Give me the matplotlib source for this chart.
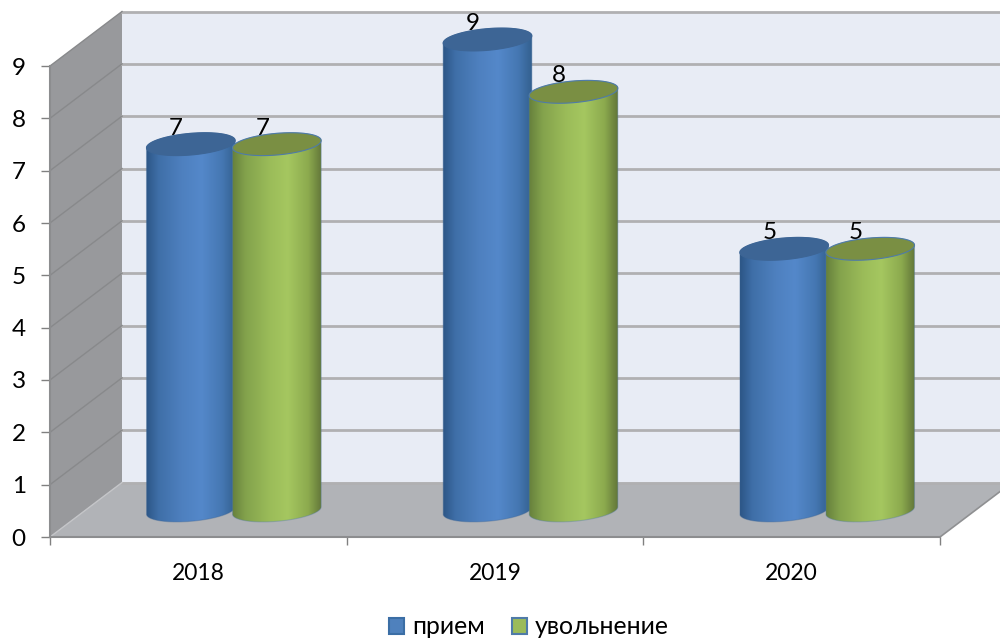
import numpy as np
import matplotlib
matplotlib.use("Agg")
import matplotlib.pyplot as plt
from matplotlib.patches import Polygon, PathPatch, Patch
from matplotlib.path import Path
from matplotlib.colors import to_rgb

years = ["2018", "2019", "2020"]
hired = [7, 9, 5]
fired = [7, 8, 5]
series_names = ["прием", "увольнение"]
y_ticks = list(range(10))

plt.rcParams["font.family"] = ["Lato", "Open Sans", "DejaVu Sans"]

W, H = 1000, 642
fig = plt.figure(figsize=(W / 100, H / 100), dpi=100, facecolor="white")
L, R, B, T = 50, 940, 537, 66
ax = fig.add_axes([L / W, 1 - B / H, (R - L) / W, (B - T) / H])
ax.patch.set_visible(False)
XLIM = (-0.5, 2.5)
YLIM = (0, 9)
PX = (R - L) / 3          # pixels per category
PY = (B - T) / 9          # pixels per unit
DX, DV = 72 / PX, 54.5 / PY  # 3D depth in data units


def poly(pts, color, z):
    ax.add_patch(Polygon(pts, closed=True, fc=color, ec="none", zorder=z, clip_on=False))


# walls and floor
x0, x1 = XLIM
top = YLIM[1]
poly([(x0, 0), (x0, top), (x0 + DX, top + DV), (x0 + DX, DV)], "#98999c", 1)
poly([(x0 + DX, DV), (x0 + DX, top + DV), (x1 + DX, top + DV), (x1 + DX, DV)], "#e8ecf5", 1)
poly([(x0, 0), (x1, 0), (x1 + DX, DV), (x0 + DX, DV)], "#b1b3b7", 1)

# gridlines on the back and side walls
for v in y_ticks:
    ax.plot([x0 + DX, x1 + DX], [v + DV, v + DV], color="#b0b0b2", lw=2.0, zorder=2, clip_on=False)
    if v > 0:
        ax.plot([x0, x0 + DX], [v, v + DV], color="#88898b", lw=1.0, zorder=2, clip_on=False)
ax.plot([x0, x0 + DX], [0, DV], color="#c4c5c8", lw=1.0, zorder=2, clip_on=False)
ax.plot([x1, x1 + DX], [0, DV], color="#8f9092", lw=1.2, zorder=2, clip_on=False)


def stops(cols, pos):
    rgb = np.array([to_rgb(c) for c in cols])
    t = np.linspace(0, 1, 256)
    return np.stack([np.interp(t, pos, rgb[:, i]) for i in range(3)], axis=1)[None, :, :]


BLUE = stops(["#2c5686", "#3f6fa8", "#4e80bf", "#5488ca", "#4577b2", "#33608f"], [0, .14, .4, .62, .85, 1])
GREEN = stops(["#66803c", "#83a24c", "#9bbc59", "#a5c760", "#8caa4e", "#627639"], [0, .15, .42, .62, .85, 1])
A, BB, TILT = 44.5, 10.8, np.deg2rad(5)
BASE = 26.5 / PY


def ellipse_xy(cx, cv, t):
    px = A * np.cos(t) * np.cos(TILT) - BB * np.sin(t) * np.sin(TILT)
    py = A * np.cos(t) * np.sin(TILT) + BB * np.sin(t) * np.cos(TILT)
    return cx + px / PX, cv + py / PY


def cylinder(cx, value, grad, cap, edge, z):
    tt = np.linspace(0, np.pi, 80)
    xt, yt = ellipse_xy(cx, BASE + value, tt)          # upper half of the top rim
    xb, yb = ellipse_xy(cx, BASE, tt + np.pi)          # lower half of the base rim
    verts = np.r_[np.c_[xt, yt], np.c_[xb, yb], [[xt[0], yt[0]]]]
    body = PathPatch(Path(verts), fc="none", ec=edge, lw=0.8, zorder=z + 0.2, clip_on=False, alpha=.35)
    ax.add_patch(body)
    half = A / PX
    im = ax.imshow(grad, extent=(cx - half, cx + half, BASE - .3, BASE + value + .3),
                   aspect="auto", zorder=z, interpolation="bilinear")
    im.set_clip_on(True)
    im.set_clip_box(fig.bbox)
    im.set_clip_path(body)
    tf = np.linspace(0, 2 * np.pi, 120)
    xc, yc = ellipse_xy(cx, BASE + value, tf)
    ax.add_patch(Polygon(np.c_[xc, yc], closed=True, fc=cap, ec=edge, lw=0.8, zorder=z + 0.3, clip_on=False))


BAR = 86 / PX
for i, (h, f) in enumerate(zip(hired, fired)):
    cx = i + (DX - 1 / PX) / 2
    zb = 5 + i
    cylinder(cx - BAR / 2, h, BLUE, "#3d6595", "#3d6595", zb)
    cylinder(cx + BAR / 2, f, GREEN, "#7a8f43", "#4f7ba8", zb + 0.5)
    for xc, v in ((cx - BAR / 2, h), (cx + BAR / 2, f)):
        ax.annotate(str(v), xy=(xc, v + BASE), xytext=(-10.5, 11.5), textcoords="offset points",
                    ha="center", va="center", fontsize=17.5, color="black", zorder=4,
                    annotation_clip=False)

ax.set_xlim(*XLIM)
ax.set_ylim(*YLIM)

# axes
for s in ("top", "right"):
    ax.spines[s].set_visible(False)
for s in ("left", "bottom"):
    ax.spines[s].set_color("#8c8d8f")
    ax.spines[s].set_linewidth(1.5)
    ax.spines[s].set_zorder(3)
ax.set_yticks(y_ticks)
ax.set_yticklabels([str(v) for v in y_ticks])
ax.tick_params(axis="y", length=6.5, width=1, color="#808080", pad=11, labelsize=17.5)
ax.set_xticks([-0.5, 0.5, 1.5, 2.5])
ax.set_xticklabels([])
ax.tick_params(axis="x", which="major", length=6, width=1, color="#808080")
ax.set_xticks([0, 1, 2], minor=True)
ax.set_xticklabels(years, minor=True)
ax.tick_params(axis="x", which="minor", length=0, pad=18.7, labelsize=16.5)

handles = [Patch(fc="#4f81bd", ec="#3b6ea5", lw=1.5), Patch(fc="#9bbb59", ec="#4f7ba8", lw=1.5)]
fig.legend(handles, series_names, loc="center", bbox_to_anchor=(529 / W, 1 - 627 / H), ncol=2,
           frameon=False, fontsize=17.8, handlelength=0.62, handleheight=0.62,
           handletextpad=0.32, columnspacing=1.08, borderpad=0)

fig.savefig("out.png", dpi=100)
